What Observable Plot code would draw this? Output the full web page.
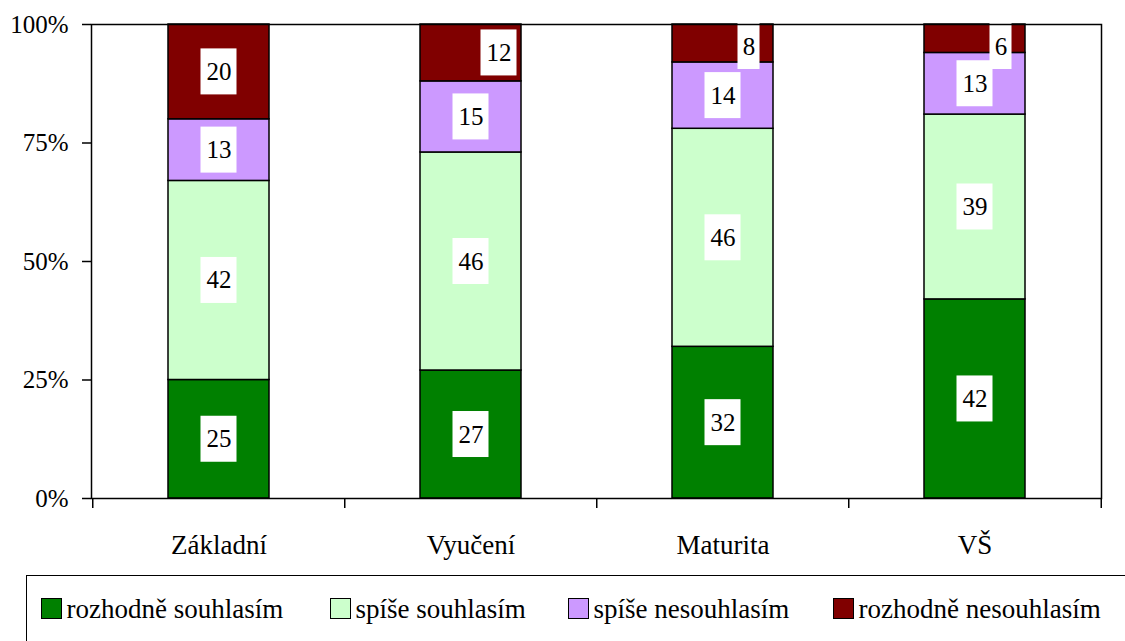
<!DOCTYPE html>
<html>
<head>
<meta charset="utf-8">
<script src="https://cdn.jsdelivr.net/npm/d3@7"></script>
<script src="https://cdn.jsdelivr.net/npm/@observablehq/plot@0.6"></script>
<style>
  body { margin: 0; background: #fff; font-family: "Liberation Serif", Tinos, "Times New Roman", Times, "DejaVu Serif", "Noto Serif", serif; }
  #wrap { position: relative; width: 1125px; height: 641px; overflow: hidden; background: #fff; }
  #chart { position: absolute; left: 0; top: 0; }
  #legend { position: absolute; left: 26px; top: 575px; width: 1130px; height: 90px;
            border: 1.5px solid #000; box-sizing: border-box; }
  #legend .item { position: absolute; top: 22px; display: flex; align-items: center; height: 21px; }
  #legend .sw { width: 21px; height: 21px; box-sizing: border-box; border: 1.5px solid #000; margin-right: 5px; flex: none; }
  #legend .lb { font-size: 27px; color: #000; position: relative; top: 1px; white-space: nowrap; }
</style>
</head>
<body>
<div id="wrap">
  <div id="chart"></div>
  <div id="legend"></div>
</div>
<script>
// ---- data ----
const categories = ["Základní", "Vyučení", "Maturita", "VŠ"];
const series = ["rozhodně souhlasím", "spíše souhlasím", "spíše nesouhlasím", "rozhodně nesouhlasím"];
const rozhodneSouhlasim = [25, 27, 32, 42];
const spiseSouhlasim = [42, 46, 46, 39];
const spiseNesouhlasim = [13, 15, 14, 13];
const rozhodneNesouhlasim = [20, 12, 8, 6];
const colors = ["#008000", "#CCFFCC", "#CC99FF", "#800000"];
const yTicks = [0, 25, 50, 75, 100];

const seriesValues = [rozhodneSouhlasim, spiseSouhlasim, spiseNesouhlasim, rozhodneNesouhlasim];
const FONT = '"Liberation Serif", Tinos, "Times New Roman", Times, "DejaVu Serif", "Noto Serif", serif';

// ---- layout ----
const W = 1125, H = 570, MT = 24, MB = 72, ML = 91, MR = 24;
const plotH = H - MT - MB;
const px = 100 / plotH;          // data units per pixel
const halfBox = 23 * px;
const topClamp = 100 - 22 * px;
const slot = (W - ML - MR) / categories.length;
const legendLeft = [13.5, 302.5, 540.5, 805.5];

// stacked rows
const rows = [];
const labels = [];
categories.forEach((c, ci) => {
  let acc = 0;
  series.forEach((s, si) => {
    const v = seriesValues[si][ci];
    const lo = acc, hi = acc + v;
    acc = hi;
    rows.push({category: c, series: s, lo, hi, value: v});
    const mid = (lo + hi) / 2;
    const shift = si === series.length - 1 && v < 15;
    labels.push({category: c, text: String(v), ly: shift ? Math.min(mid, topClamp) : mid, shift});
  });
});

function boxes(filter, inset, dx) {
  return Plot.barY(labels.filter(filter), {
    x: "category", y1: d => d.ly - halfBox, y2: d => d.ly + halfBox,
    fill: "#fff", insetLeft: inset, insetRight: inset, dx
  });
}

const chart = Plot.plot({
  width: W, height: H,
  marginTop: MT, marginBottom: MB, marginLeft: ML, marginRight: MR,
  style: {fontFamily: FONT, fontSize: "25px", color: "#000", background: "#fff", overflow: "visible"},
  x: {domain: categories, paddingInner: 0.6, paddingOuter: 0.3, axis: null},
  y: {domain: [0, 100], axis: null},
  color: {domain: series, range: colors},
  marks: [
    Plot.barY(rows, {x: "category", y1: "lo", y2: "hi", fill: "series", stroke: "#000", strokeWidth: 1.5}),
    boxes(d => !d.shift && d.text.length === 2, 32.5, 0),
    boxes(d => !d.shift && d.text.length === 1, 39.5, 0),
    boxes(d => d.shift && d.text.length === 2, 32.5, 28),
    boxes(d => d.shift && d.text.length === 1, 39.5, 26),
    Plot.text(labels.filter(d => !d.shift), {x: "category", y: "ly", text: "text", fill: "#000", fontSize: 25}),
    Plot.text(labels.filter(d => d.shift && d.text.length === 2), {x: "category", y: "ly", text: "text", fill: "#000", fontSize: 25, dx: 28}),
    Plot.text(labels.filter(d => d.shift && d.text.length === 1), {x: "category", y: "ly", text: "text", fill: "#000", fontSize: 25, dx: 26}),
    Plot.frame({stroke: "#000", strokeWidth: 1.5}),
    Plot.axisY(yTicks, {tickSize: 9, tickPadding: 14, tickFormat: d => d + "%", strokeWidth: 1.5, label: null, fontSize: 25}),
    Plot.axisX(categories, {tickSize: 10, dx: -slot / 2, tickFormat: () => "", strokeWidth: 1.5, label: null}),
    Plot.axisX([categories[categories.length - 1]], {tickSize: 10, dx: slot / 2, tickFormat: () => "", strokeWidth: 1.5, label: null}),
    Plot.axisX(categories, {tickSize: 0, tickPadding: 36, label: null, fontSize: 27})
  ]
});
document.getElementById("chart").appendChild(chart);

// ---- legend ----
const legend = document.getElementById("legend");
series.forEach((s, i) => {
  const it = document.createElement("div");
  it.className = "item";
  it.style.left = legendLeft[i] + "px";
  const sw = document.createElement("div");
  sw.className = "sw";
  sw.style.background = colors[i];
  const lb = document.createElement("span");
  lb.className = "lb";
  lb.textContent = s;
  it.appendChild(sw);
  it.appendChild(lb);
  legend.appendChild(it);
});
</script>
</body>
</html>
